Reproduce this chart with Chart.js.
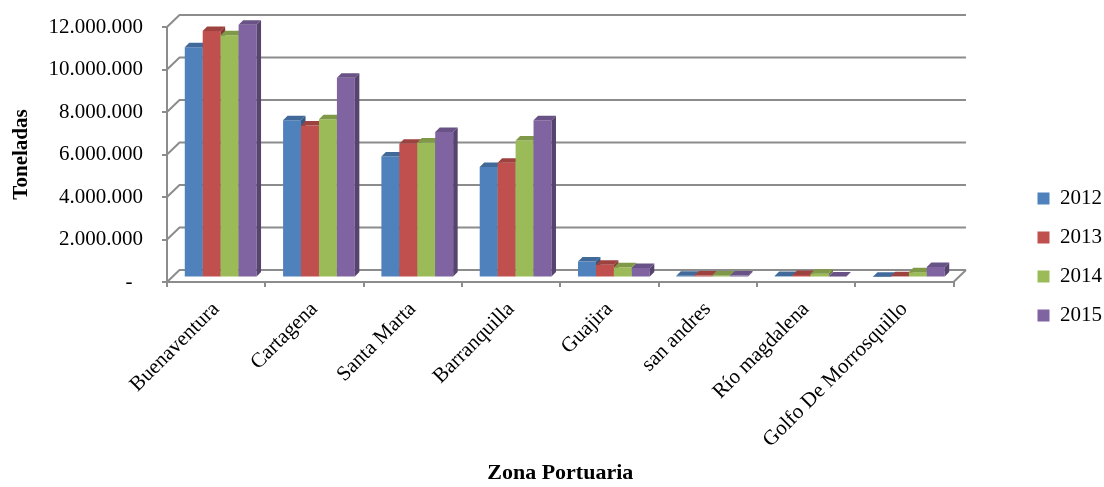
<!DOCTYPE html>
<html>
<head>
<meta charset="utf-8">
<script src="https://cdn.jsdelivr.net/npm/chart.js@4.4.0/dist/chart.umd.min.js"></script>
<style>
  body { margin: 0; background: #fff; }
  #caja { width: 1104px; height: 487px; }
</style>
</head>
<body>
<div id="caja"><canvas id="grafico"></canvas></div>
<script>
// datos (toneladas)
const zonas = ["Buenaventura", "Cartagena", "Santa Marta", "Barranquilla", "Guajira", "san andres", "Río magdalena", "Golfo De Morrosquillo"];
const anios = ["2012", "2013", "2014", "2015"];
const t2012 = [10830000, 7400000, 5700000, 5200000, 750000, 80000, 70000, 30000];
const t2013 = [11600000, 7150000, 6300000, 5400000, 600000, 90000, 120000, 60000];
const t2014 = [11400000, 7450000, 6350000, 6450000, 480000, 100000, 180000, 250000];
const t2015 = [11900000, 9400000, 6850000, 7400000, 450000, 90000, 50000, 500000];
const colores = ["#4F81BD", "#C0504D", "#9BBB59", "#8064A2"];

const fuente = "'Liberation Serif', 'Times New Roman', serif";
const gris = "#8c8c8c";

// desplazamientos del efecto 3d
const fondo = { dx: 12.5, dy: 12 };
const barra = { dx: 4.5, dy: 4.5, d: 4.5 };

// oscurece un color hex
const sombra = (hex, f) => {
  const n = parseInt(hex.slice(1), 16);
  const r = Math.round(((n >> 16) & 255) * f);
  const g = Math.round(((n >> 8) & 255) * f);
  const b = Math.round((n & 255) * f);
  return `rgb(${r},${g},${b})`;
};

// 12000000 -> 12.000.000
const miles = (v) => v.toString().replace(/\B(?=(\d{3})+(?!\d))/g, ".");

//pinta paredes, piso y barras con volumen
const tresD = {
  id: "tresD",
  beforeDatasetsDraw(chart) {
    const { ctx, chartArea: a, scales } = chart;
    const y = scales.y;
    ctx.save();
    ctx.strokeStyle = gris;
    ctx.lineWidth = 2;
    ctx.beginPath();
    y.ticks.forEach((t) => {
      const py = y.getPixelForValue(t.value);
      ctx.moveTo(a.left, py);
      ctx.lineTo(a.left + fondo.dx, py - fondo.dy);
      ctx.lineTo(a.right + fondo.dx, py - fondo.dy);
    });
    ctx.moveTo(a.right, a.bottom);
    ctx.lineTo(a.right + fondo.dx, a.bottom - fondo.dy);
    ctx.stroke();

    ctx.translate(barra.dx, -barra.dy);
    const metas = chart.getSortedVisibleDatasetMetas();
    const d = barra.d;
    for (let j = 0; j < zonas.length; j++) {
      metas.forEach((m) => {
        const b = m.data[j];
        b.draw(ctx);
        const col = colores[m.index];
        const x0 = b.x - b.width / 2;
        const x1 = b.x + b.width / 2;
        // lado
        ctx.fillStyle = sombra(col, 0.68);
        ctx.beginPath();
        ctx.moveTo(x1, b.y);
        ctx.lineTo(x1 + d, b.y - d);
        ctx.lineTo(x1 + d, b.base - d);
        ctx.lineTo(x1, b.base);
        ctx.closePath();
        ctx.fill();
        // tapa
        ctx.fillStyle = sombra(col, 0.82);
        ctx.beginPath();
        ctx.moveTo(x0, b.y);
        ctx.lineTo(x1, b.y);
        ctx.lineTo(x1 + d, b.y - d);
        ctx.lineTo(x0 + d, b.y - d);
        ctx.closePath();
        ctx.fill();
      });
    }
    ctx.restore();
    return false;
  },
};

const datasets = [t2012, t2013, t2014, t2015].map((serie, i) => ({
  label: anios[i],
  data: serie,
  backgroundColor: colores[i],
  borderWidth: 0,
  categoryPercentage: 0.73,
  barPercentage: 1.0,
}));

const chart = new Chart(document.getElementById("grafico"), {
  type: "bar",
  data: { labels: zonas, datasets },
  options: {
    responsive: true,
    maintainAspectRatio: false,
    animation: false,
    layout: { padding: { top: 27, right: -8, left: 0, bottom: 0 } },
    plugins: {
      tooltip: { enabled: false },
      legend: {
        position: "right",
        labels: {
          boxWidth: 12,
          boxHeight: 12,
          padding: 18,
          color: "#000",
          font: { family: fuente, size: 21 },
        },
      },
    },
    scales: {
      x: {
        afterFit: (s) => { s.height = 205; },
        grid: { drawOnChartArea: false, color: gris, lineWidth: 2, tickLength: 5 },
        border: { color: gris, width: 2 },
        ticks: {
          color: "#000",
          font: { family: fuente, size: 21 },
          minRotation: 45,
          maxRotation: 45,
          autoSkip: false,
          padding: 10,
        },
        title: {
          display: true,
          text: "Zona Portuaria",
          color: "#000",
          font: { family: fuente, size: 22, weight: "bold" },
          padding: { top: 0, bottom: 0 },
        },
      },
      y: {
        min: 0,
        max: 12000000,
        afterFit: (s) => { s.width = 167; s.paddingTop = 0; s.paddingBottom = 0; },
        grid: { drawOnChartArea: false, color: gris, lineWidth: 2, tickLength: 5 },
        border: { color: gris, width: 2 },
        ticks: {
          stepSize: 2000000,
          color: "#000",
          padding: 19,
          font: { family: fuente, size: 21 },
          callback: (v) => (v === 0 ? "-  " : miles(v)),
        },
        title: {
          display: true,
          text: "Toneladas",
          color: "#000",
          font: { family: fuente, size: 21, weight: "bold" },
          padding: { top: 9, bottom: 0 },
        },
      },
      // hueco entre el piso y la leyenda
      hueco: {
        type: "linear",
        position: "right",
        afterFit: (s) => { s.width = 66; s.paddingTop = 0; s.paddingBottom = 0; },
        grid: { display: false },
        border: { display: false },
        ticks: { display: false },
      },
    },
  },
  plugins: [tresD],
});
</script>
</body>
</html>
